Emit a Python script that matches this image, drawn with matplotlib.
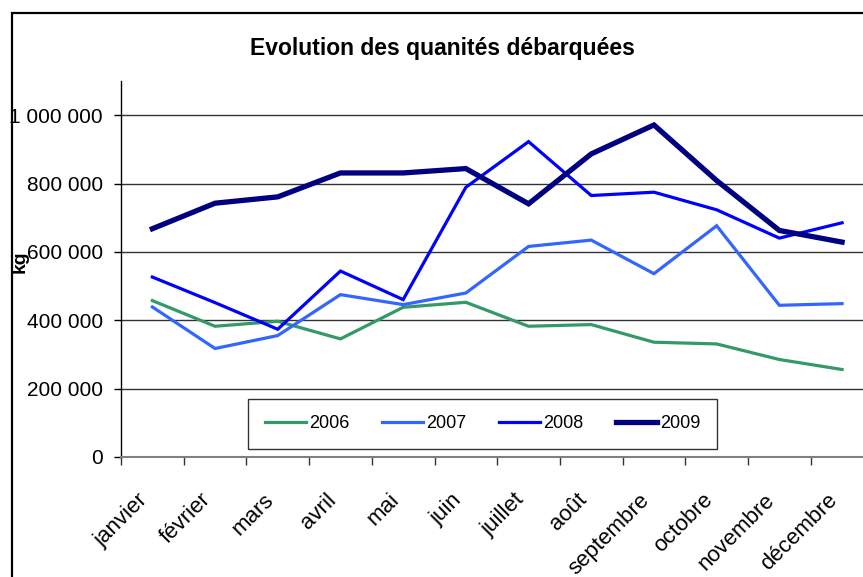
import matplotlib
matplotlib.use("Agg")
import matplotlib.pyplot as plt
from matplotlib.patches import Rectangle
from matplotlib.ticker import FuncFormatter, FixedLocator

months = ["janvier", "février", "mars", "avril", "mai", "juin", "juillet",
          "août", "septembre", "octobre", "novembre", "décembre"]
years = ["2006", "2007", "2008", "2009"]
v2006 = [457500, 382500, 397000, 345500, 438000, 452600, 382500, 387400, 335800, 330800, 285200, 256000]
v2007 = [439000, 317400, 355300, 475000, 445800, 479800, 616000, 634500, 536300, 676500, 443800, 448700]
v2008 = [526500, 451600, 373700, 544000, 460400, 789000, 922600, 765000, 774700, 723200, 640400, 685200]
v2009 = [667800, 742500, 761000, 831000, 831000, 843800, 740700, 886700, 971400, 808800, 662800, 628700]
yticks = [0, 200000, 400000, 600000, 800000, 1000000]

series = [v2006, v2007, v2008, v2009]
colors = ["#339966", "#3366FF", "#0000FF", "#000080"]
widths = [2.3, 2.3, 2.3, 3.8]

fam = ["Liberation Sans", "DejaVu Sans"]
plt.rcParams["font.family"] = fam

W, H = 863, 577
fig = plt.figure(figsize=(W / 100, H / 100), dpi=100)
left, right = 121, 873.4
top, bottom = 81, 457
ax = fig.add_axes([left / W, 1 - bottom / H, (right - left) / W, (bottom - top) / H])

x = list(range(len(months)))
for vals, c, lw, lab in zip(series, colors, widths, years):
    ax.plot(x, vals, color=c, lw=lw, label=lab, solid_joinstyle="miter")

ax.set_xlim(-0.5, 11.5)
ax.set_ylim(0, 1100000)
ax.set_yticks(yticks)
ax.yaxis.set_major_formatter(FuncFormatter(lambda v, p: f"{int(v):,}".replace(",", " ")))
ax.grid(axis="y", color="#333333", lw=1.0)
ax.set_axisbelow(True)

ax.set_xticks(x)
ax.set_xticklabels(months, rotation=45, ha="right", va="bottom", rotation_mode="anchor")
ax.xaxis.set_minor_locator(FixedLocator([i - 0.5 for i in range(13)]))
ax.tick_params(axis="x", which="major", length=0, pad=34, labelsize=16)
ax.tick_params(axis="x", which="minor", length=6, width=1, color="#333333")
ax.tick_params(axis="y", length=5, width=1, pad=8, labelsize=15)

for s in ["top", "right"]:
    ax.spines[s].set_visible(False)
ax.spines["left"].set_color("black")
ax.spines["left"].set_linewidth(1)
ax.spines["bottom"].set_color("#808080")
ax.spines["bottom"].set_linewidth(1.5)

fig.text(442 / W, 1 - 49 / H, "Evolution des quanités débarquées",
         ha="center", va="center", fontsize=16.5, fontweight="bold",
         family=["Liberation Sans Narrow", "Liberation Sans", "DejaVu Sans"])
fig.text(20 / W, 1 - 262 / H, "kg", rotation=90, ha="center", va="center",
         fontsize=14, fontweight="bold")

leg = ax.legend(loc="center", bbox_to_anchor=(482.5 / W, 1 - 424 / H),
                bbox_transform=fig.transFigure, ncol=4, frameon=True,
                fancybox=False, edgecolor="black", fontsize=13,
                handlelength=2.3, handletextpad=0.15, columnspacing=1.8,
                borderpad=0.9)
leg.get_frame().set_linewidth(1.0)

fig.add_artist(Rectangle((12 / W, -0.1), 1.2, (H - 13) / H + 0.1,
                         transform=fig.transFigure, fill=False, lw=1.6,
                         ec="black"))

fig.savefig("out.png", dpi=100)
